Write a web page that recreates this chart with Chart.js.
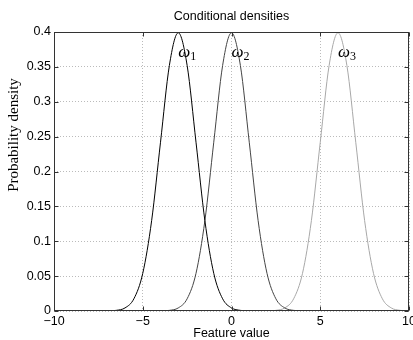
<!DOCTYPE html>
<html>
<head>
<meta charset="utf-8">
<script src="https://cdn.jsdelivr.net/npm/chart.js@4/dist/chart.umd.min.js"></script>
<style>
  html, body { margin: 0; padding: 0; background: #fff; }
  #wrap { width: 413px; height: 340px; }
</style>
</head>
<body>
<div id="wrap"><canvas id="c" width="413" height="340"></canvas></div>
<script>
// Feature values at which the densities are listed
const featureValues = [
  -10, -9.5, -9, -8.5, -8, -7.5, -7, -6.5, -6, -5.5, -5, -4.5, -4, -3.5, -3, -2.5, -2, -1.5, -1, -0.5,
  0, 0.5, 1, 1.5, 2, 2.5, 3, 3.5, 4, 4.5, 5, 5.5, 6, 6.5, 7, 7.5, 8, 8.5, 9, 9.5, 10
];

// Class-conditional densities p(x | ω1), p(x | ω2), p(x | ω3)
const densityW1 = [
  0, 0, 0, 0, 0, 0, 0.0001, 0.0009, 0.0044, 0.0175, 0.0540, 0.1295, 0.2420, 0.3521, 0.3989, 0.3521, 0.2420, 0.1295, 0.0540, 0.0175,
  0.0044, 0.0009, 0.0001, 0, 0, 0, 0, 0, 0, 0, 0, 0, 0, 0, 0, 0, 0, 0, 0, 0, 0
];
const densityW2 = [
  0, 0, 0, 0, 0, 0, 0, 0, 0, 0, 0, 0, 0.0001, 0.0009, 0.0044, 0.0175, 0.0540, 0.1295, 0.2420, 0.3521,
  0.3989, 0.3521, 0.2420, 0.1295, 0.0540, 0.0175, 0.0044, 0.0009, 0.0001, 0, 0, 0, 0, 0, 0, 0, 0, 0, 0, 0, 0
];
const densityW3 = [
  0, 0, 0, 0, 0, 0, 0, 0, 0, 0, 0, 0, 0, 0, 0, 0, 0, 0, 0, 0,
  0, 0, 0, 0, 0.0001, 0.0009, 0.0044, 0.0175, 0.0540, 0.1295, 0.2420, 0.3521, 0.3989, 0.3521, 0.2420, 0.1295, 0.0540, 0.0175, 0.0044, 0.0009, 0.0001
];

const classNames = ['1', '2', '3'];          // subscripts of ω
const classLabelX = [-3, 0, 6];              // where each class label sits
const classLabelY = 0.37;
const classColors = ['#000000', '#444444', '#a8a8a8'];

const xTicks = [-10, -5, 0, 5, 10];
const yTicks = [0, 0.05, 0.1, 0.15, 0.2, 0.25, 0.3, 0.35, 0.4];

const SANS = '"Liberation Sans", Arial, Helvetica, sans-serif';
const SERIF = '"Liberation Serif", "Times New Roman", serif';

function pts(ys) {
  return featureValues.map((x, i) => ({ x: x, y: ys[i] }));
}

// Box, inward ticks, title, y label and class labels
const frame = {
  id: 'frame',
  afterDraw(chart) {
    const { ctx, chartArea: a, scales } = chart;
    const L = Math.round(a.left) + 0.5, R = Math.round(a.right) - 0.5;
    const T = Math.round(a.top) + 0.5, B = Math.round(a.bottom) - 0.5;
    ctx.save();
    ctx.strokeStyle = '#333';
    ctx.lineWidth = 1;
    ctx.setLineDash([]);
    ctx.strokeRect(L, T, R - L, B - T);
    const tl = 4;
    ctx.beginPath();
    xTicks.forEach(v => {
      const px = Math.round(scales.x.getPixelForValue(v)) + 0.5;
      ctx.moveTo(px, B); ctx.lineTo(px, B - tl);
      ctx.moveTo(px, T); ctx.lineTo(px, T + tl);
    });
    yTicks.forEach(v => {
      const py = Math.round(scales.y.getPixelForValue(v)) + 0.5;
      ctx.moveTo(L, py); ctx.lineTo(L + tl, py);
      ctx.moveTo(R, py); ctx.lineTo(R - tl, py);
    });
    ctx.stroke();

    // title
    ctx.fillStyle = '#000';
    ctx.font = '12.5px ' + SANS;
    ctx.textAlign = 'center';
    ctx.textBaseline = 'middle';
    ctx.fillText('Conditional densities', (a.left + a.right) / 2, 17);

    // y axis label
    ctx.save();
    ctx.translate(14, 135);
    ctx.rotate(-Math.PI / 2);
    ctx.font = '15px ' + SERIF;
    ctx.fillText('Probability density', 0, 0);
    ctx.restore();

    // class labels ω1, ω2, ω3
    ctx.textAlign = 'left';
    ctx.textBaseline = 'alphabetic';
    classNames.forEach((n, i) => {
      const px = scales.x.getPixelForValue(classLabelX[i]);
      const py = scales.y.getPixelForValue(classLabelY) + 4;
      ctx.font = 'italic 17px ' + SERIF;
      ctx.fillText('ω', px, py);
      const w = ctx.measureText('ω').width;
      ctx.font = '12px ' + SERIF;
      ctx.fillText(n, px + w, py + 3);
    });
    ctx.restore();
  }
};

new Chart(document.getElementById('c'), {
  type: 'line',
  data: {
    datasets: [
      { label: 'ω1', data: pts(densityW1), borderColor: classColors[0] },
      { label: 'ω2', data: pts(densityW2), borderColor: classColors[1] },
      { label: 'ω3', data: pts(densityW3), borderColor: classColors[2] }
    ].map(d => Object.assign(d, {
      borderWidth: 1,
      pointRadius: 0,
      fill: false,
      cubicInterpolationMode: 'monotone'
    }))
  },
  options: {
    responsive: false,
    animation: false,
    devicePixelRatio: 1,
    layout: { padding: { top: 32, right: 4, left: 0, bottom: 0 } },
    plugins: { legend: { display: false }, tooltip: { enabled: false }, title: { display: false } },
    scales: {
      x: {
        type: 'linear',
        min: -10, max: 10,
        afterBuildTicks(s) { s.ticks = xTicks.map(v => ({ value: v })); },
        afterFit(s) { s.height = 29; s.paddingLeft = 0; s.paddingRight = 0; },
        ticks: {
          font: { family: SANS, size: 12.5 },
          color: '#000',
          padding: 3,
          maxRotation: 0,
          callback: v => (v < 0 ? '\u2212' + Math.abs(v) : String(v))
        },
        grid: { color: '#bbbbbb', lineWidth: 1, drawTicks: false },
        border: { display: false, dash: [1, 2] },
        title: {
          display: true, text: 'Feature value',
          font: { family: SANS, size: 12.5, lineHeight: 1 }, color: '#000',
          padding: { top: 0, bottom: 0 }
        }
      },
      y: {
        min: 0, max: 0.4,
        afterBuildTicks(s) { s.ticks = yTicks.map(v => ({ value: v })); },
        afterFit(s) { s.width = 54; },
        ticks: {
          font: { family: SANS, size: 12.5 },
          color: '#000',
          padding: 3,
          callback: v => String(Math.round(v * 100) / 100)
        },
        grid: { color: '#bbbbbb', lineWidth: 1, drawTicks: false },
        border: { display: false, dash: [1, 2] }
      }
    }
  },
  plugins: [frame]
});
</script>
</body>
</html>
